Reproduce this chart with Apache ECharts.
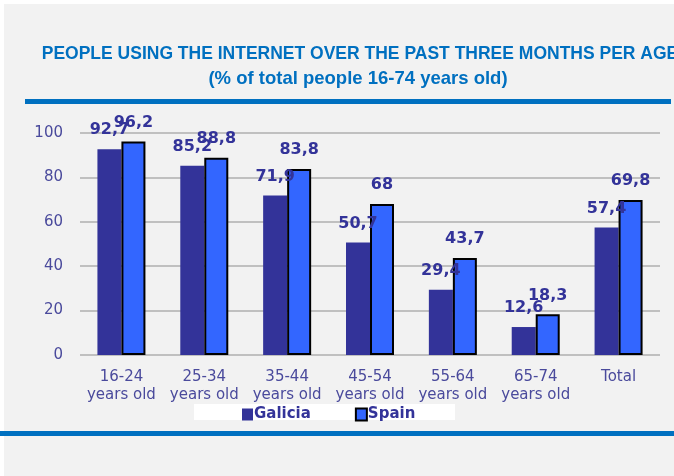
<!DOCTYPE html>
<html>
<head>
<meta charset="utf-8">
<script src="https://cdn.jsdelivr.net/npm/echarts@6/dist/echarts.min.js"></script>
<style>
  html, body { margin: 0; padding: 0; background: #ffffff; }
  #chart { width: 674px; height: 476px; }
</style>
</head>
<body>
<div id="chart"></div>
<script>
// Internet use in the last three months by age group (% of people aged 16-74)
const categories = ['16-24\nyears old', '25-34\nyears old', '35-44\nyears old', '45-54\nyears old', '55-64\nyears old', '65-74\nyears old', 'Total'];
const galicia = [92.7, 85.2, 71.9, 50.7, 29.4, 12.6, 57.4];
const spain = [96.2, 88.8, 83.8, 68, 43.7, 18.3, 69.8];
const yTicks = [0, 20, 40, 60, 80, 100];

const titleLine1 = 'PEOPLE USING THE INTERNET OVER THE PAST THREE MONTHS PER AGE';
const titleLine2 = '(% of total people 16-74 years old)';

const fmt = v => String(v).replace('.', ',');
const labelColor = '#333399';
const axisTextColor = '#4a4a9c';
const titleBlue = '#0070c0';

const chart = echarts.init(document.getElementById('chart'));
chart.setOption({
  backgroundColor: '#f2f2f2',
  animation: false,
  graphic: [
    { type: 'rect', left: 0, top: 0, shape: { width: 674, height: 4 }, style: { fill: '#ffffff' }, silent: true },
    { type: 'rect', left: 0, top: 0, shape: { width: 4, height: 476 }, style: { fill: '#ffffff' }, silent: true },
    { type: 'text', x: 360, y: 54, style: { text: titleLine1, fill: titleBlue, font: 'bold 17.5px "Liberation Sans", sans-serif', textAlign: 'center', textVerticalAlign: 'middle' } },
    { type: 'text', x: 358, y: 79, style: { text: titleLine2, fill: titleBlue, font: 'bold 18.5px "Liberation Sans", sans-serif', textAlign: 'center', textVerticalAlign: 'middle' } },
    { type: 'rect', shape: { x: 25, y: 99, width: 646, height: 5 }, style: { fill: titleBlue }, silent: true },
    { type: 'rect', shape: { x: 194, y: 404, width: 261, height: 16 }, style: { fill: '#ffffff' }, silent: true, z: 0 },
    { type: 'rect', shape: { x: 0, y: 431, width: 674, height: 5 }, style: { fill: titleBlue }, silent: true }
  ],
  grid: { left: 80, right: 14, top: 133, bottom: 121, containLabel: false },
  legend: {
    data: ['Galicia', 'Spain'],
    left: 237, top: 402,
    icon: 'rect',
    itemWidth: 11, itemHeight: 12, itemGap: 44,
    textStyle: { color: labelColor, fontFamily: 'DejaVu Sans', fontWeight: 'bold', fontSize: 15, padding: [0, 0, 0, -4] },
    z: 10
  },
  xAxis: {
    type: 'category',
    data: categories,
    axisLine: { show: false },
    axisTick: { show: false },
    axisLabel: { color: axisTextColor, fontFamily: 'DejaVu Sans', fontSize: 15, margin: 13, lineHeight: 18, interval: 0 }
  },
  yAxis: {
    type: 'value',
    min: 0, max: 100, interval: 20,
    axisLabel: { color: axisTextColor, fontFamily: 'DejaVu Sans', fontSize: 15, margin: 17,
      formatter: v => yTicks.includes(v) ? String(v) : '' },
    axisLine: { show: false },
    axisTick: { show: false },
    splitLine: { lineStyle: { color: '#c0c0c0', width: 2 } }
  },
  series: [
    {
      name: 'Galicia', type: 'bar', data: galicia,
      barWidth: 24, barGap: '0%',
      itemStyle: { color: '#333399' },
      label: { show: true, position: 'top', distance: 11, color: labelColor, fontFamily: 'DejaVu Sans', fontWeight: 'bold', fontSize: 16, formatter: p => fmt(p.value) }
    },
    {
      name: 'Spain', type: 'bar', data: spain,
      barWidth: 24,
      itemStyle: { color: '#3366ff', borderColor: '#000000', borderWidth: 2 },
      label: { show: true, position: 'top', distance: 11, color: labelColor, fontFamily: 'DejaVu Sans', fontWeight: 'bold', fontSize: 16, formatter: p => fmt(p.value) }
    }
  ]
});
</script>
</body>
</html>
